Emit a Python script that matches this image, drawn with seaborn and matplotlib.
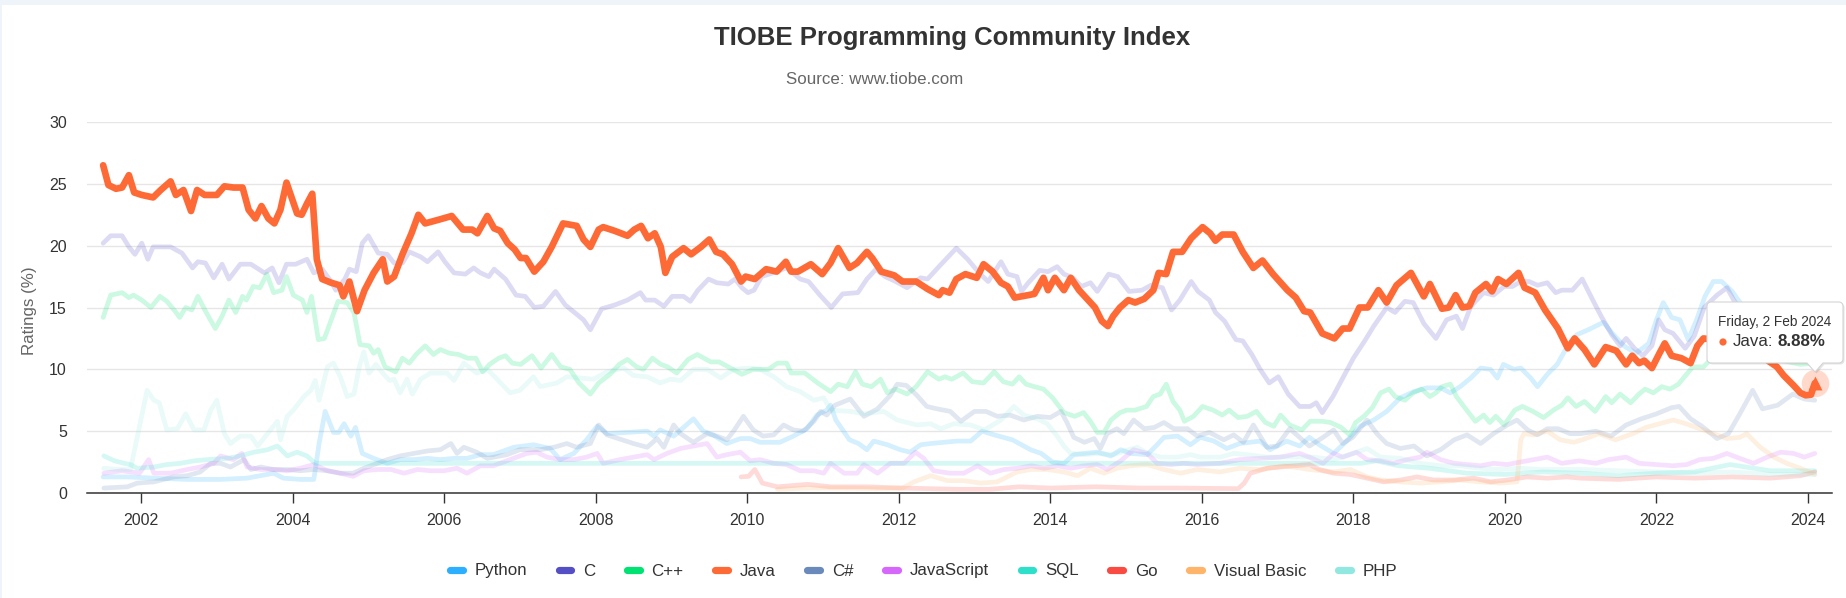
import numpy as np
import pandas as pd
import matplotlib
matplotlib.use("Agg")
import matplotlib.pyplot as plt
import seaborn as sns
from matplotlib.patches import Polygon, Circle, Rectangle
from matplotlib.lines import Line2D
from matplotlib.transforms import IdentityTransform

# ---------------- data (year, rating %) ----------------
languages = ["Python", "C", "C++", "Java", "C#", "JavaScript", "SQL", "Go", "Visual Basic", "PHP"]
colors = ["#2caffe", "#544fc5", "#00e272", "#fe6a35", "#6b8abc", "#d568fb", "#2ee0ca", "#fa4b42", "#feb56a", "#91e8e1"]
x_ticks = list(range(2002, 2025, 2))
y_ticks = [0, 5, 10, 15, 20, 25, 30]

java = [(2001.50, 26.5), (2001.57, 24.9), (2001.67, 24.6), (2001.75, 24.7), (2001.84, 25.7), (2001.91, 24.3),
        (2002.01, 24.1), (2002.16, 23.9), (2002.26, 24.5), (2002.39, 25.2), (2002.46, 24.1), (2002.56, 24.5),
        (2002.66, 22.8), (2002.74, 24.5), (2002.84, 24.1), (2003.00, 24.1), (2003.10, 24.8), (2003.22, 24.7),
        (2003.34, 24.7), (2003.42, 22.9), (2003.51, 22.2), (2003.59, 23.2), (2003.68, 22.2), (2003.76, 21.8),
        (2003.84, 22.9), (2003.92, 25.1), (2004.06, 22.6), (2004.12, 22.5), (2004.19, 23.4), (2004.26, 24.2),
        (2004.32, 18.9), (2004.39, 17.3), (2004.51, 17.0), (2004.62, 16.8), (2004.67, 15.9), (2004.75, 17.1),
        (2004.85, 14.7), (2004.95, 16.4), (2005.07, 17.8), (2005.19, 18.9), (2005.25, 17.1), (2005.34, 17.5),
        (2005.45, 19.3), (2005.57, 21.0), (2005.66, 22.5), (2005.75, 21.8), (2005.93, 22.1), (2006.10, 22.4),
        (2006.25, 21.3), (2006.37, 21.3), (2006.44, 21.0), (2006.57, 22.4), (2006.66, 21.4), (2006.74, 21.2),
        (2006.84, 20.2), (2006.93, 19.7), (2007.01, 19.0), (2007.08, 19.0), (2007.19, 17.9), (2007.31, 18.7),
        (2007.42, 19.9), (2007.57, 21.8), (2007.75, 21.6), (2007.84, 20.5), (2007.93, 19.9), (2008.04, 21.3),
        (2008.10, 21.5), (2008.25, 21.2), (2008.42, 20.8), (2008.51, 21.3), (2008.60, 21.6), (2008.69, 20.6),
        (2008.78, 21.0), (2008.86, 19.9), (2008.92, 17.8), (2009.01, 19.1), (2009.16, 19.8), (2009.26, 19.3),
        (2009.39, 19.9), (2009.50, 20.5), (2009.59, 19.5), (2009.68, 19.3), (2009.80, 18.5), (2009.92, 17.1),
        (2009.98, 17.5), (2010.10, 17.3), (2010.25, 18.1), (2010.39, 17.9), (2010.51, 18.7), (2010.58, 17.9),
        (2010.67, 17.9), (2010.84, 18.5), (2010.99, 17.7), (2011.10, 18.6), (2011.20, 19.8), (2011.35, 18.2),
        (2011.45, 18.6), (2011.58, 19.5), (2011.65, 19.0), (2011.77, 17.9), (2011.94, 17.6), (2012.05, 17.1),
        (2012.23, 17.1), (2012.38, 16.5), (2012.53, 16.0), (2012.58, 16.4), (2012.67, 16.2), (2012.76, 17.3),
        (2012.88, 17.7), (2013.03, 17.4), (2013.12, 18.5), (2013.24, 17.9), (2013.35, 17.0), (2013.44, 16.7),
        (2013.53, 15.8), (2013.71, 16.0), (2013.79, 16.1), (2013.91, 17.4), (2013.97, 16.4), (2014.06, 17.4),
        (2014.18, 16.4), (2014.27, 17.4), (2014.38, 16.4), (2014.50, 15.6), (2014.59, 15.0), (2014.68, 13.9),
        (2014.76, 13.5), (2014.83, 14.3), (2014.92, 15.0), (2015.03, 15.6), (2015.12, 15.4), (2015.24, 15.7),
        (2015.36, 16.4), (2015.43, 17.8), (2015.53, 17.7), (2015.62, 19.5), (2015.74, 19.5), (2015.86, 20.6),
        (2016.01, 21.5), (2016.11, 21.0), (2016.18, 20.4), (2016.27, 20.9), (2016.42, 20.9), (2016.54, 19.5),
        (2016.68, 18.2), (2016.80, 18.8), (2016.94, 17.7), (2017.13, 16.4), (2017.24, 15.8), (2017.35, 14.7),
        (2017.43, 14.6), (2017.59, 12.9), (2017.75, 12.5), (2017.86, 13.3), (2017.95, 13.3), (2018.08, 15.0),
        (2018.19, 15.0), (2018.33, 16.4), (2018.44, 15.4), (2018.57, 16.8), (2018.76, 17.8), (2018.93, 15.9),
        (2019.01, 16.9), (2019.17, 14.9), (2019.26, 15.0), (2019.35, 16.0), (2019.44, 15.0), (2019.53, 15.1),
        (2019.61, 16.2), (2019.75, 16.9), (2019.83, 16.3), (2019.91, 17.3), (2020.02, 16.9), (2020.18, 17.8),
        (2020.26, 16.6), (2020.40, 16.2), (2020.53, 14.8), (2020.70, 13.3), (2020.83, 11.7), (2020.92, 12.5),
        (2021.05, 11.6), (2021.18, 10.4), (2021.33, 11.8), (2021.47, 11.5), (2021.60, 10.4), (2021.68, 11.1),
        (2021.77, 10.5), (2021.84, 10.7), (2021.94, 10.1), (2022.04, 11.3), (2022.11, 12.1), (2022.20, 11.1),
        (2022.33, 10.9), (2022.45, 10.5), (2022.54, 11.9), (2022.62, 12.5), (2022.75, 12.4), (2022.90, 12.0),
        (2023.00, 12.4), (2023.15, 11.8), (2023.30, 11.4), (2023.46, 10.75), (2023.59, 10.2), (2023.68, 9.5),
        (2023.81, 8.7), (2023.90, 8.1), (2023.97, 7.9), (2024.04, 7.95), (2024.09, 8.88)]

c_lang = [(2001.50, 20.2), (2001.60, 20.8), (2001.75, 20.8), (2001.84, 19.9), (2001.92, 19.3), (2002.01, 20.2),
          (2002.09, 18.9), (2002.16, 19.9), (2002.39, 19.9), (2002.54, 19.4), (2002.68, 18.2), (2002.75, 18.7),
          (2002.85, 18.6), (2002.96, 17.4), (2003.07, 18.5), (2003.16, 17.3), (2003.31, 18.5), (2003.45, 18.5),
          (2003.63, 17.8), (2003.73, 18.2), (2003.82, 17.0), (2003.92, 18.5), (2004.04, 18.5), (2004.19, 18.9),
          (2004.28, 17.8), (2004.39, 18.1), (2004.51, 17.1), (2004.57, 16.4), (2004.69, 17.3), (2004.75, 18.1),
          (2004.84, 17.9), (2004.92, 20.2), (2005.00, 20.8), (2005.13, 19.4), (2005.25, 19.3), (2005.34, 18.6),
          (2005.45, 18.6), (2005.54, 19.5), (2005.69, 19.1), (2005.78, 18.7), (2005.92, 19.5), (2006.01, 18.7),
          (2006.13, 17.8), (2006.28, 17.7), (2006.39, 18.2), (2006.48, 17.8), (2006.59, 17.5), (2006.66, 18.1),
          (2006.81, 17.3), (2006.95, 16.0), (2007.07, 15.9), (2007.19, 15.0), (2007.31, 15.1), (2007.47, 16.3),
          (2007.60, 15.2), (2007.72, 14.6), (2007.84, 14.0), (2007.93, 13.2), (2008.08, 14.9), (2008.25, 15.2),
          (2008.42, 15.6), (2008.59, 16.2), (2008.66, 15.6), (2008.78, 15.6), (2008.90, 15.1), (2009.01, 15.9),
          (2009.16, 15.9), (2009.25, 15.5), (2009.35, 16.4), (2009.49, 17.3), (2009.60, 17.0), (2009.75, 16.9),
          (2009.84, 17.3), (2009.93, 16.6), (2010.01, 16.2), (2010.09, 16.4), (2010.19, 17.5), (2010.34, 17.8),
          (2010.52, 18.2), (2010.70, 17.3), (2010.81, 17.1), (2010.96, 16.0), (2011.11, 15.0), (2011.26, 16.1),
          (2011.46, 16.2), (2011.58, 17.3), (2011.70, 18.1), (2011.82, 17.5), (2011.96, 17.1), (2012.11, 16.6),
          (2012.29, 17.4), (2012.38, 17.3), (2012.53, 18.3), (2012.76, 19.8), (2012.91, 18.9), (2013.06, 17.8),
          (2013.18, 17.1), (2013.35, 18.7), (2013.44, 17.7), (2013.56, 17.5), (2013.62, 16.3), (2013.71, 17.0),
          (2013.86, 18.0), (2013.97, 17.9), (2014.09, 18.3), (2014.18, 17.7), (2014.30, 17.4), (2014.41, 16.7),
          (2014.53, 17.0), (2014.62, 16.3), (2014.77, 17.7), (2014.89, 17.5), (2015.04, 16.3), (2015.21, 16.4),
          (2015.33, 16.8), (2015.48, 16.6), (2015.60, 14.8), (2015.71, 15.6), (2015.86, 17.1), (2015.95, 16.3),
          (2016.10, 15.6), (2016.18, 14.6), (2016.30, 13.9), (2016.45, 12.4), (2016.54, 12.3), (2016.66, 11.2),
          (2016.77, 10.0), (2016.89, 8.9), (2017.01, 9.4), (2017.14, 8.0), (2017.29, 7.0), (2017.43, 7.0),
          (2017.51, 7.3), (2017.59, 6.5), (2017.73, 7.8), (2017.86, 9.3), (2018.00, 10.9), (2018.16, 12.4),
          (2018.27, 13.5), (2018.44, 15.0), (2018.55, 14.6), (2018.68, 15.5), (2018.79, 15.4), (2018.93, 13.7),
          (2019.09, 12.5), (2019.23, 14.0), (2019.36, 14.3), (2019.44, 13.3), (2019.55, 15.1), (2019.72, 16.2),
          (2019.85, 16.0), (2019.99, 16.7), (2020.10, 16.7), (2020.21, 17.1), (2020.32, 17.1), (2020.43, 16.8),
          (2020.56, 17.0), (2020.67, 16.2), (2020.75, 16.4), (2020.89, 16.4), (2021.02, 17.3), (2021.16, 15.6),
          (2021.27, 14.3), (2021.41, 12.8), (2021.52, 11.9), (2021.60, 12.5), (2021.71, 11.7), (2021.82, 11.1),
          (2021.94, 11.9), (2022.03, 14.0), (2022.11, 13.2), (2022.22, 12.9), (2022.38, 11.7), (2022.50, 12.7),
          (2022.63, 15.0), (2022.80, 16.0), (2022.93, 16.6), (2023.02, 15.6), (2023.20, 14.0), (2023.40, 13.0),
          (2023.60, 11.5), (2023.80, 11.4), (2024.09, 11.0)]

cpp = [(2001.50, 14.2), (2001.60, 16.0), (2001.75, 16.2), (2001.84, 15.8), (2001.90, 16.0), (2002.01, 15.6),
       (2002.13, 15.0), (2002.25, 15.9), (2002.34, 15.5), (2002.45, 14.7), (2002.51, 14.2), (2002.59, 15.0),
       (2002.67, 14.8), (2002.75, 15.9), (2002.86, 14.6), (2002.98, 13.3), (2003.07, 14.3), (2003.16, 15.6),
       (2003.25, 14.6), (2003.34, 15.9), (2003.39, 15.6), (2003.48, 16.7), (2003.57, 16.6), (2003.66, 17.7),
       (2003.75, 16.2), (2003.86, 16.4), (2003.92, 17.5), (2004.01, 16.0), (2004.13, 15.6), (2004.19, 14.6),
       (2004.25, 15.9), (2004.34, 12.4), (2004.42, 12.5), (2004.51, 14.0), (2004.60, 15.5), (2004.72, 15.4),
       (2004.81, 14.6), (2004.89, 12.0), (2005.01, 11.9), (2005.07, 11.3), (2005.13, 11.6), (2005.22, 10.2),
       (2005.36, 9.8), (2005.45, 10.9), (2005.54, 10.5), (2005.63, 11.2), (2005.75, 11.9), (2005.86, 11.2),
       (2005.95, 11.6), (2006.07, 11.3), (2006.19, 11.2), (2006.31, 10.9), (2006.42, 10.9), (2006.51, 9.8),
       (2006.60, 10.4), (2006.72, 10.9), (2006.81, 11.1), (2006.90, 10.5), (2007.01, 10.4), (2007.16, 11.1),
       (2007.28, 10.1), (2007.42, 11.2), (2007.54, 10.2), (2007.66, 10.0), (2007.78, 8.9), (2007.93, 8.0),
       (2008.04, 8.9), (2008.19, 9.6), (2008.31, 10.4), (2008.42, 10.8), (2008.54, 10.2), (2008.63, 10.0),
       (2008.75, 10.9), (2008.86, 10.4), (2008.95, 10.2), (2009.07, 9.7), (2009.22, 10.8), (2009.34, 11.2),
       (2009.52, 10.6), (2009.63, 10.6), (2009.81, 10.0), (2009.93, 9.6), (2010.08, 10.0), (2010.28, 10.0),
       (2010.40, 10.5), (2010.52, 10.5), (2010.58, 9.7), (2010.76, 9.7), (2010.93, 8.9), (2011.10, 8.2),
       (2011.20, 8.8), (2011.32, 8.6), (2011.43, 9.8), (2011.52, 8.8), (2011.64, 8.6), (2011.76, 9.2),
       (2011.85, 8.1), (2011.96, 8.4), (2012.11, 8.0), (2012.23, 8.6), (2012.38, 9.8), (2012.53, 9.2),
       (2012.61, 9.4), (2012.70, 9.2), (2012.85, 9.7), (2012.97, 9.0), (2013.12, 8.9), (2013.26, 9.8),
       (2013.38, 9.0), (2013.50, 8.8), (2013.59, 9.4), (2013.68, 8.8), (2013.79, 8.6), (2013.91, 8.4),
       (2014.03, 7.7), (2014.18, 6.5), (2014.32, 6.2), (2014.44, 6.5), (2014.53, 5.8), (2014.62, 4.9),
       (2014.71, 4.9), (2014.80, 5.9), (2014.92, 6.5), (2015.01, 6.7), (2015.12, 6.7), (2015.27, 7.0),
       (2015.36, 7.8), (2015.45, 8.0), (2015.53, 8.8), (2015.62, 7.4), (2015.71, 6.7), (2015.77, 5.8),
       (2015.89, 6.2), (2016.01, 7.0), (2016.15, 6.7), (2016.27, 6.3), (2016.36, 6.7), (2016.48, 6.1),
       (2016.60, 6.2), (2016.72, 6.6), (2016.84, 5.7), (2016.95, 5.4), (2017.04, 6.3), (2017.16, 5.5),
       (2017.32, 5.1), (2017.43, 5.8), (2017.59, 5.8), (2017.70, 5.7), (2017.84, 5.3), (2017.95, 4.7),
       (2018.03, 5.7), (2018.14, 6.2), (2018.25, 6.9), (2018.36, 8.1), (2018.47, 8.4), (2018.55, 7.8),
       (2018.68, 7.5), (2018.79, 8.1), (2018.90, 8.4), (2019.01, 7.8), (2019.09, 8.1), (2019.17, 8.6),
       (2019.28, 8.8), (2019.36, 7.8), (2019.47, 6.9), (2019.61, 5.8), (2019.72, 6.3), (2019.80, 5.7),
       (2019.88, 6.2), (2019.99, 5.5), (2020.13, 6.7), (2020.23, 7.0), (2020.37, 6.6), (2020.51, 6.1),
       (2020.64, 6.7), (2020.75, 7.1), (2020.83, 7.7), (2020.94, 7.0), (2021.05, 7.4), (2021.19, 6.6),
       (2021.33, 7.8), (2021.41, 7.3), (2021.52, 8.0), (2021.66, 7.3), (2021.77, 8.0), (2021.85, 8.4),
       (2021.96, 8.1), (2022.07, 8.6), (2022.18, 8.4), (2022.29, 8.8), (2022.37, 9.4), (2022.48, 10.2),
       (2022.62, 10.2), (2022.78, 11.2), (2023.00, 11.6), (2023.30, 11.0), (2023.60, 10.8), (2023.90, 10.4),
       (2024.09, 10.5)]

python = [(2001.50, 1.3), (2001.82, 1.3), (2002.17, 1.2), (2002.61, 1.1), (2003.05, 1.1), (2003.40, 1.2),
          (2003.75, 1.6), (2003.88, 1.2), (2004.10, 1.1), (2004.28, 1.1), (2004.35, 4.0), (2004.43, 6.6),
          (2004.54, 4.9), (2004.61, 4.9), (2004.68, 5.6), (2004.77, 4.6), (2004.83, 5.3), (2004.92, 3.2),
          (2005.07, 2.8), (2005.25, 2.4), (2005.42, 2.7), (2005.60, 2.7), (2005.78, 2.8), (2005.95, 2.7),
          (2006.13, 2.8), (2006.30, 2.8), (2006.48, 3.1), (2006.65, 3.1), (2006.92, 3.7), (2007.18, 3.9),
          (2007.40, 3.6), (2007.53, 2.7), (2007.71, 3.2), (2007.88, 4.3), (2008.02, 5.4), (2008.15, 4.8),
          (2008.68, 5.0), (2008.77, 4.6), (2008.85, 5.1), (2009.03, 4.6), (2009.29, 6.0), (2009.42, 5.0),
          (2009.55, 4.7), (2009.73, 4.0), (2009.91, 4.4), (2010.04, 4.4), (2010.17, 4.1), (2010.43, 4.1),
          (2010.61, 4.6), (2010.79, 5.2), (2010.92, 6.3), (2011.05, 6.7), (2011.10, 7.1), (2011.17, 5.9),
          (2011.35, 4.3), (2011.47, 4.0), (2011.58, 3.5), (2011.67, 4.2), (2011.85, 3.9), (2012.02, 3.5),
          (2012.15, 3.3), (2012.29, 3.9), (2012.42, 4.0), (2012.77, 4.2), (2012.95, 4.2), (2013.10, 5.0),
          (2013.26, 4.7), (2013.50, 4.3), (2013.74, 3.5), (2013.88, 3.2), (2014.03, 2.5), (2014.18, 2.4),
          (2014.31, 3.1), (2014.45, 3.2), (2014.62, 3.3), (2014.80, 3.0), (2014.93, 3.5), (2015.06, 3.2),
          (2015.28, 3.1), (2015.41, 3.9), (2015.50, 4.5), (2015.68, 4.6), (2015.85, 3.9), (2015.98, 4.5),
          (2016.16, 4.2), (2016.33, 3.6), (2016.50, 4.0), (2016.77, 4.2), (2016.90, 3.5), (2017.12, 4.2),
          (2017.29, 3.8), (2017.42, 4.5), (2017.55, 3.9), (2017.74, 3.2), (2017.91, 4.2), (2018.09, 5.4),
          (2018.27, 5.9), (2018.44, 6.6), (2018.62, 7.7), (2018.80, 8.2), (2018.97, 8.5), (2019.15, 8.5),
          (2019.28, 8.1), (2019.41, 8.6), (2019.55, 9.3), (2019.68, 10.1), (2019.81, 10.0), (2019.90, 9.3),
          (2019.98, 10.4), (2020.12, 10.0), (2020.21, 10.1), (2020.34, 9.3), (2020.43, 8.6), (2020.56, 9.6),
          (2020.69, 10.4), (2020.82, 11.8), (2020.95, 12.8), (2021.10, 13.2), (2021.30, 13.8), (2021.42, 12.9),
          (2021.57, 11.9), (2021.73, 11.3), (2021.90, 12.1), (2022.00, 14.0), (2022.09, 15.4), (2022.20, 14.2),
          (2022.31, 14.0), (2022.42, 12.4), (2022.53, 14.0), (2022.64, 15.9), (2022.75, 17.1), (2022.86, 17.1),
          (2023.00, 16.3), (2023.15, 15.0), (2023.40, 13.6), (2023.70, 14.0), (2023.95, 14.3), (2024.09, 15.2)]

csharp = [(2001.51, 0.4), (2001.82, 0.5), (2001.95, 0.8), (2002.17, 0.9), (2002.43, 1.3), (2002.61, 1.4),
          (2002.78, 1.7), (2002.92, 2.4), (2003.05, 2.4), (2003.18, 2.1), (2003.27, 2.4), (2003.36, 2.7),
          (2003.45, 1.9), (2003.58, 2.1), (2003.75, 1.9), (2003.93, 1.9), (2004.10, 1.8), (2004.28, 1.9),
          (2004.46, 1.8), (2004.63, 1.6), (2004.80, 1.6), (2004.94, 2.0), (2005.12, 2.4), (2005.25, 2.7),
          (2005.42, 3.0), (2005.60, 3.2), (2005.78, 3.4), (2005.95, 3.5), (2006.09, 4.0), (2006.17, 3.2),
          (2006.26, 3.7), (2006.43, 3.3), (2006.57, 2.8), (2006.83, 3.1), (2007.00, 3.5), (2007.27, 3.5),
          (2007.45, 3.7), (2007.62, 4.0), (2007.75, 3.7), (2007.93, 4.0), (2008.04, 5.5), (2008.15, 4.7),
          (2008.50, 4.0), (2008.68, 3.7), (2008.81, 4.4), (2008.90, 3.7), (2009.03, 5.5), (2009.12, 4.8),
          (2009.29, 4.1), (2009.47, 4.8), (2009.60, 4.6), (2009.73, 4.3), (2009.82, 5.0), (2009.95, 6.2),
          (2010.08, 5.1), (2010.21, 4.6), (2010.35, 4.7), (2010.48, 5.5), (2010.61, 5.1), (2010.74, 5.0),
          (2010.88, 5.8), (2010.97, 6.6), (2011.05, 6.3), (2011.16, 7.1), (2011.28, 7.4), (2011.36, 7.6),
          (2011.54, 6.2), (2011.72, 6.8), (2011.89, 7.9), (2011.98, 8.8), (2012.10, 8.7), (2012.24, 7.9),
          (2012.37, 7.0), (2012.51, 6.8), (2012.68, 6.6), (2012.82, 5.8), (2013.00, 6.6), (2013.15, 6.6),
          (2013.30, 6.2), (2013.47, 6.3), (2013.65, 5.9), (2013.83, 6.2), (2014.00, 6.1), (2014.14, 6.6),
          (2014.22, 5.7), (2014.31, 4.5), (2014.45, 4.1), (2014.58, 4.4), (2014.66, 3.6), (2014.75, 4.8),
          (2014.88, 5.2), (2014.97, 4.8), (2015.10, 5.9), (2015.24, 5.2), (2015.37, 5.3), (2015.50, 5.7),
          (2015.63, 5.2), (2015.81, 5.2), (2015.94, 4.6), (2016.10, 4.9), (2016.29, 4.3), (2016.42, 4.7),
          (2016.55, 4.1), (2016.68, 5.5), (2016.86, 3.7), (2016.99, 3.8), (2017.16, 5.2), (2017.29, 4.5),
          (2017.42, 3.8), (2017.60, 4.5), (2017.74, 5.1), (2017.86, 4.0), (2017.99, 4.5), (2018.18, 5.9),
          (2018.31, 4.8), (2018.44, 4.0), (2018.62, 3.6), (2018.80, 3.8), (2018.97, 3.0), (2019.15, 3.5),
          (2019.33, 4.3), (2019.50, 4.7), (2019.68, 4.0), (2019.85, 4.8), (2020.03, 5.5), (2020.16, 5.9),
          (2020.30, 5.1), (2020.43, 4.7), (2020.56, 5.2), (2020.70, 5.2), (2020.86, 4.8), (2021.00, 4.8),
          (2021.20, 5.0), (2021.40, 4.6), (2021.60, 5.5), (2021.80, 6.0), (2022.00, 6.4), (2022.20, 6.9),
          (2022.30, 7.0), (2022.45, 6.0), (2022.60, 5.4), (2022.80, 4.4), (2022.95, 4.8), (2023.10, 6.4),
          (2023.27, 8.3), (2023.40, 6.8), (2023.60, 7.1), (2023.80, 8.0), (2023.95, 7.6), (2024.09, 7.5)]

javascript = [(2001.51, 1.6), (2001.75, 1.8), (2001.98, 1.6), (2002.10, 2.7), (2002.17, 1.6), (2002.39, 1.6),
              (2002.61, 1.9), (2002.78, 2.1), (2002.96, 2.4), (2003.05, 3.0), (2003.22, 2.7), (2003.33, 3.2),
              (2003.40, 2.1), (2003.58, 1.9), (2003.75, 1.9), (2003.93, 1.8), (2004.10, 2.0), (2004.28, 2.3),
              (2004.46, 1.8), (2004.63, 1.6), (2004.80, 1.35), (2004.94, 1.8), (2005.12, 1.9), (2005.30, 1.9),
              (2005.47, 1.6), (2005.65, 1.9), (2005.82, 1.8), (2006.00, 1.8), (2006.17, 2.0), (2006.30, 1.6),
              (2006.48, 2.2), (2006.65, 2.2), (2006.87, 2.7), (2007.09, 3.2), (2007.22, 3.3), (2007.36, 2.9),
              (2007.53, 2.7), (2007.71, 2.7), (2007.88, 2.9), (2008.02, 3.2), (2008.10, 2.4), (2008.32, 2.7),
              (2008.50, 2.9), (2008.68, 3.1), (2008.77, 2.7), (2008.94, 3.2), (2009.12, 3.6), (2009.29, 3.8),
              (2009.47, 4.0), (2009.60, 2.9), (2009.73, 3.1), (2009.91, 3.3), (2010.04, 2.6), (2010.17, 2.7),
              (2010.35, 2.4), (2010.52, 2.3), (2010.70, 1.8), (2010.88, 1.8), (2011.01, 1.6), (2011.10, 2.4),
              (2011.28, 1.6), (2011.45, 1.6), (2011.54, 2.3), (2011.72, 1.6), (2011.89, 2.4), (2012.07, 2.4),
              (2012.22, 3.3), (2012.33, 2.8), (2012.46, 1.8), (2012.68, 1.6), (2012.86, 1.6), (2013.04, 2.2),
              (2013.21, 1.6), (2013.39, 1.9), (2013.57, 2.0), (2013.75, 2.2), (2013.92, 2.0), (2014.10, 2.2),
              (2014.27, 2.0), (2014.45, 2.2), (2014.62, 2.3), (2014.75, 1.9), (2014.93, 2.6), (2015.10, 3.5),
              (2015.28, 3.2), (2015.41, 2.4), (2015.59, 2.3), (2015.76, 2.4), (2015.94, 2.3), (2016.24, 2.4),
              (2016.50, 2.7), (2016.77, 2.8), (2017.03, 2.9), (2017.29, 3.2), (2017.42, 2.9), (2017.60, 2.4),
              (2017.74, 3.2), (2017.86, 2.9), (2018.04, 3.3), (2018.18, 2.7), (2018.36, 2.6), (2018.53, 2.4),
              (2018.71, 2.7), (2018.88, 2.9), (2018.97, 3.3), (2019.15, 2.7), (2019.33, 2.4), (2019.50, 2.3),
              (2019.68, 2.2), (2019.85, 2.4), (2020.03, 2.3), (2020.20, 2.5), (2020.38, 2.7), (2020.56, 2.9),
              (2020.75, 2.4), (2020.98, 2.6), (2021.20, 2.4), (2021.37, 2.7), (2021.60, 2.9), (2021.77, 2.4),
              (2022.00, 2.3), (2022.22, 2.2), (2022.40, 2.3), (2022.57, 2.7), (2022.75, 2.8), (2022.93, 3.2),
              (2023.10, 2.8), (2023.28, 2.4), (2023.46, 2.9), (2023.64, 3.3), (2023.81, 3.2), (2023.95, 2.9),
              (2024.09, 3.2)]

sql = [(2001.51, 3.0), (2001.65, 2.6), (2001.78, 2.4), (2001.86, 2.3), (2001.95, 2.0), (2002.17, 2.1),
       (2002.34, 2.3), (2002.52, 2.4), (2002.70, 2.6), (2002.87, 2.7), (2003.14, 2.8), (2003.31, 3.0),
       (2003.49, 3.3), (2003.67, 3.5), (2003.80, 3.8), (2003.93, 3.0), (2004.06, 3.3), (2004.19, 3.0),
       (2004.30, 2.4), (2018.10, 2.4), (2018.30, 2.6), (2018.60, 2.2), (2019.00, 2.0), (2019.50, 1.6),
       (2020.00, 1.5), (2020.50, 1.7), (2021.00, 1.6), (2021.50, 1.4), (2022.00, 1.6), (2022.50, 1.7),
       (2022.97, 2.3), (2023.50, 1.8), (2024.09, 1.8)]

go = [(2009.92, 1.3), (2010.02, 1.35), (2010.10, 1.9), (2010.20, 0.8), (2010.40, 0.5), (2010.80, 0.7),
      (2011.10, 0.5), (2011.58, 0.5), (2012.05, 0.4), (2012.76, 0.3), (2013.20, 0.3), (2013.59, 0.5),
      (2014.00, 0.4), (2014.60, 0.5), (2015.20, 0.4), (2015.70, 0.4), (2016.48, 0.35), (2016.56, 0.8),
      (2016.64, 1.6), (2016.86, 2.0), (2017.12, 2.15), (2017.42, 2.3), (2017.55, 1.9), (2017.74, 1.6),
      (2017.96, 1.5), (2018.18, 1.2), (2018.40, 0.9), (2018.62, 1.05), (2018.84, 1.3), (2019.06, 1.05),
      (2019.33, 1.05), (2019.59, 1.2), (2019.81, 0.9), (2020.03, 1.05), (2020.29, 1.3), (2020.56, 1.2),
      (2020.82, 1.3), (2021.00, 1.2), (2021.50, 1.1), (2022.00, 1.3), (2022.50, 1.2), (2023.00, 1.3),
      (2023.50, 1.2), (2023.90, 1.4), (2024.09, 1.7)]

visual_basic = [(2010.40, 0.3), (2010.80, 0.4), (2011.20, 0.4), (2011.70, 0.35), (2012.05, 0.4), (2012.20, 0.9),
                (2012.42, 1.4), (2012.64, 1.0), (2012.86, 1.0), (2013.08, 0.8), (2013.30, 0.9), (2013.56, 1.7),
                (2013.74, 1.9), (2013.96, 1.9), (2014.18, 1.7), (2014.36, 1.4), (2014.53, 2.0), (2014.71, 1.6),
                (2014.88, 2.0), (2015.06, 2.2), (2015.28, 2.3), (2015.50, 1.9), (2015.72, 1.6), (2015.94, 1.9),
                (2016.24, 1.7), (2016.50, 2.0), (2016.77, 1.9), (2017.10, 2.2), (2017.42, 1.9), (2017.74, 1.7),
                (2017.96, 1.9), (2018.18, 1.3), (2018.36, 1.05), (2018.62, 0.9), (2018.88, 0.8), (2019.15, 0.9),
                (2019.41, 1.05), (2019.68, 0.9), (2019.94, 0.8), (2020.16, 0.9), (2020.21, 4.3), (2020.25, 4.8),
                (2020.38, 4.7), (2020.56, 5.0), (2020.73, 4.3), (2020.91, 4.1), (2021.02, 4.3), (2021.24, 4.8),
                (2021.46, 4.3), (2021.69, 4.8), (2021.86, 5.3), (2022.04, 5.6), (2022.22, 5.9), (2022.39, 5.6),
                (2022.57, 5.2), (2022.75, 4.8), (2022.93, 4.4), (2023.10, 4.5), (2023.19, 4.8), (2023.37, 3.7),
                (2023.55, 2.9), (2023.72, 2.4), (2023.90, 2.0), (2024.09, 1.5)]

php = [(2001.51, 2.0), (2001.70, 1.9), (2001.86, 1.9), (2002.08, 8.3), (2002.17, 7.5), (2002.24, 7.3),
       (2002.34, 5.1), (2002.48, 5.2), (2002.59, 6.4), (2002.70, 5.1), (2002.83, 5.1), (2002.92, 6.7),
       (2003.00, 7.5), (2003.10, 4.8), (2003.18, 4.0), (2003.31, 4.6), (2003.45, 4.6), (2003.54, 3.8),
       (2003.67, 4.8), (2003.80, 5.8), (2003.84, 4.3), (2003.93, 6.2), (2004.01, 6.7), (2004.15, 7.8),
       (2004.24, 8.3), (2004.30, 9.1), (2004.35, 7.5), (2004.46, 10.2), (2004.54, 10.5), (2004.63, 9.4),
       (2004.72, 7.8), (2004.81, 8.0), (2004.88, 10.2), (2004.94, 11.4), (2005.01, 9.7), (2005.10, 10.4),
       (2005.19, 9.7), (2005.28, 9.1), (2005.34, 9.2), (2005.42, 8.1), (2005.51, 9.2), (2005.58, 8.0),
       (2005.69, 9.2), (2005.82, 9.7), (2006.04, 9.7), (2006.13, 9.1), (2006.26, 10.5), (2006.43, 9.7),
       (2006.57, 10.0), (2006.70, 9.2), (2006.87, 8.1), (2007.00, 8.3), (2007.18, 9.4), (2007.27, 8.6),
       (2007.49, 8.9), (2007.62, 9.4), (2007.80, 9.3), (2007.97, 9.2), (2008.15, 9.8), (2008.37, 10.1),
       (2008.50, 9.5), (2008.68, 9.4), (2008.85, 8.9), (2008.99, 9.2), (2009.12, 9.1), (2009.29, 10.0),
       (2009.47, 10.0), (2009.65, 9.3), (2009.82, 10.0), (2010.04, 10.1), (2010.17, 10.0), (2010.35, 9.4),
       (2010.52, 8.6), (2010.70, 8.2), (2010.88, 7.5), (2011.01, 7.7), (2011.10, 6.7), (2011.36, 6.6),
       (2011.54, 6.4), (2011.80, 6.6), (2011.98, 5.9), (2012.24, 5.5), (2012.42, 5.6), (2012.55, 5.2),
       (2012.73, 5.6), (2012.95, 5.5), (2013.13, 5.1), (2013.35, 5.9), (2013.52, 7.0), (2013.65, 6.3),
       (2013.83, 6.0), (2013.96, 5.6), (2014.09, 4.6), (2014.18, 3.8), (2014.27, 3.2), (2014.45, 3.1),
       (2014.62, 3.2), (2014.84, 3.1), (2014.98, 3.4), (2015.15, 3.7), (2015.28, 3.2), (2015.46, 2.9),
       (2015.68, 2.9), (2015.85, 3.1), (2015.98, 2.9), (2016.24, 2.9), (2016.42, 3.2), (2016.60, 3.1),
       (2016.86, 2.9), (2017.20, 2.9), (2017.47, 2.9), (2017.74, 2.7), (2018.00, 3.2), (2018.18, 3.6),
       (2018.36, 2.9), (2018.62, 2.8), (2018.88, 2.4), (2019.15, 2.2), (2019.41, 2.2), (2019.68, 2.0),
       (2019.94, 1.9), (2020.20, 2.0), (2020.47, 1.9), (2020.73, 1.9), (2021.00, 1.9), (2021.50, 1.8),
       (2022.00, 1.7), (2022.50, 1.6), (2023.00, 1.7), (2023.50, 1.5), (2024.09, 1.5)]

series_data = [python, c_lang, cpp, java, csharp, javascript, sql, go, visual_basic, php]
highlight = "Java"
tooltip_date = "Friday, 2 Feb 2024"
tooltip_value = 8.88
tooltip_x = 2024.09

# ---------------- figure ----------------
W, H = 1846, 598
sns.set_theme(style="white")
plt.rcParams["font.family"] = ["Liberation Sans", "DejaVu Sans"]

fig = plt.figure(figsize=(W / 100, H / 100), dpi=100)
fig.patch.set_facecolor("white")


def fx(px):
    return px / W


def fy(py):
    return 1 - py / H


# light frame strip at top / left like the page
fig.add_artist(Rectangle((0, H - 5), W, 5, transform=IdentityTransform(), facecolor="#eef4fa", edgecolor="none"))
fig.add_artist(Rectangle((0, 0), 2, H, transform=IdentityTransform(), facecolor="#eef4fa", edgecolor="none"))

L, R, T, B = 87, 1832, 122, 493
ax = fig.add_axes([fx(L), fy(B), fx(R) - fx(L), fy(T) - fy(B)])
ax.set_facecolor("white")

for name, pts, col in zip(languages, series_data, colors):
    df = pd.DataFrame(pts, columns=["year", "rating"])
    is_hl = name == highlight
    sns.lineplot(data=df, x="year", y="rating", ax=ax, color=col,
                 linewidth=4.8 if is_hl else 3.4, alpha=1.0 if is_hl else 0.2,
                 sort=False, estimator=None, legend=False, zorder=5 if is_hl else 2)

for ln in ax.lines:
    ln.set_solid_joinstyle("round")
    ln.set_solid_capstyle("round")

# hover marker with halo
jcol = colors[languages.index(highlight)]
ax.scatter([tooltip_x], [tooltip_value], s=(27.5 * 0.72) ** 2, color=jcol, alpha=0.25, linewidths=0, zorder=6)
ax.scatter([tooltip_x], [tooltip_value], s=100, marker="^", color=jcol, linewidths=0, zorder=7)

ax.set_xlim(2001.287, 2024.317)
ax.set_ylim(0, 30)
ax.set_xticks(x_ticks)
ax.set_xticklabels([str(t) for t in x_ticks])
ax.set_yticks(y_ticks)
ax.set_yticklabels([str(t) for t in y_ticks])
ax.set_xlabel("")
ax.set_ylabel("")
ax.grid(False)
ax.yaxis.grid(True, color="#e6e6e6", linewidth=1.0, zorder=0)
ax.set_axisbelow(True)
for s in ["top", "right", "left"]:
    ax.spines[s].set_visible(False)
ax.spines["bottom"].set_color("#333333")
ax.spines["bottom"].set_linewidth(1.1)
ax.spines["bottom"].set_zorder(8)
ax.tick_params(axis="x", direction="out", length=7.2, width=1.0, color="#333333",
               pad=7, labelsize=11.5, labelcolor="#333333", bottom=True)
ax.tick_params(axis="y", length=0, pad=14.4, labelsize=11.5, labelcolor="#333333", left=True)

# titles
fig.text(fx(952), fy(38), "TIOBE Programming Community Index", ha="center", va="center",
         fontsize=18.5, fontweight="bold", color="#333333")
fig.text(fx(875), fy(80), "Source: www.tiobe.com", ha="center", va="center",
         fontsize=12.2, color="#666666")
fig.text(fx(30), fy(311), "Ratings (%)", ha="center", va="center", rotation=90,
         fontsize=12.2, color="#666666")

# legend
handles = [Line2D([0], [0], color=c, linewidth=5.2, solid_capstyle="round") for c in colors]
leg = fig.legend(handles, languages, loc="center", bbox_to_anchor=(fx(923.5), fy(571)), ncol=10,
                 frameon=False, fontsize=12.2, handlelength=0.76, handletextpad=0.69,
                 columnspacing=1.87, borderaxespad=0, borderpad=0, labelcolor="#333333")

# tooltip callout (display pixels, origin bottom-left)
bx0, bx1, by0, by1 = 1707, 1843, 302, 363
tipx, tipy = 1815, 372
r = 4


def arc(cx, cy, a0, a1):
    a = np.linspace(np.radians(a0), np.radians(a1), 6)
    return [(cx + r * np.cos(t), cy + r * np.sin(t)) for t in a]


pts = []
pts += arc(bx0 + r, by0 + r, 180, 270)
pts += arc(bx1 - r, by0 + r, 270, 360)
pts += arc(bx1 - r, by1 - r, 0, 90)
pts += [(tipx + 8, by1), (tipx, tipy), (tipx - 8, by1)]
pts += arc(bx0 + r, by1 - r, 90, 180)
poly = [(x, H - y) for x, y in pts]
shadow = [(x + 1.5, y - 1.5) for x, y in poly]
fig.add_artist(Polygon(shadow, closed=True, transform=IdentityTransform(), facecolor="#000000",
                       alpha=0.10, edgecolor="none", zorder=20))
fig.add_artist(Polygon(poly, closed=True, transform=IdentityTransform(), facecolor="white",
                       edgecolor="#d4d4d4", linewidth=0.8, zorder=21))

fig.text(fx(1718), fy(322), tooltip_date, ha="left", va="center", fontsize=9.8,
         color="#333333", zorder=22)
fig.add_artist(Circle((1723, H - 342), 3.6, transform=IdentityTransform(), facecolor=jcol,
                      edgecolor="none", zorder=22))
t1 = fig.text(fx(1733), fy(342), highlight + ":", ha="left", va="center", fontsize=12.2,
              color="#333333", zorder=22)
fig.canvas.draw()
bb = t1.get_window_extent(fig.canvas.get_renderer())
fig.text((bb.x1 + 4.5) / W, fy(342), f"{tooltip_value:.2f}%", ha="left", va="center",
         fontsize=12.2, fontweight="bold", color="#333333", zorder=22)

fig.savefig("out.png", dpi=100, facecolor="white")
